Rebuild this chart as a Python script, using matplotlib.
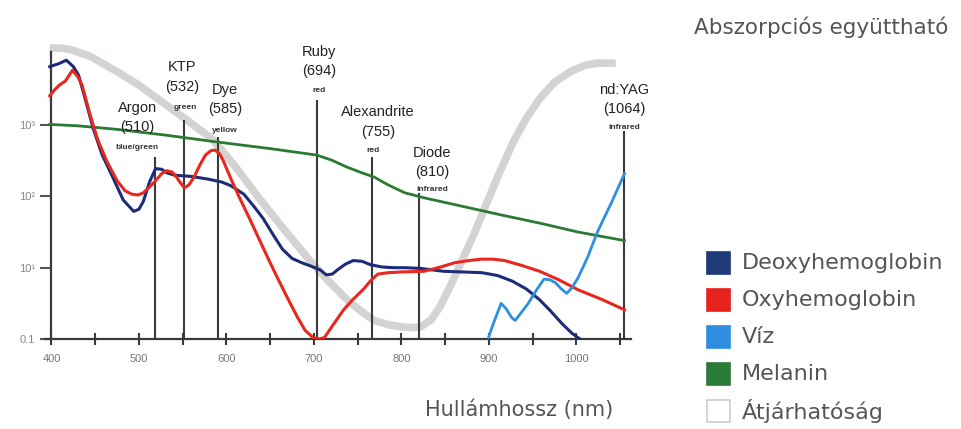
import numpy as np
import matplotlib
matplotlib.use("Agg")
import matplotlib.pyplot as plt
from matplotlib.patches import Rectangle
from matplotlib.ticker import FixedLocator, FixedFormatter, NullFormatter

# values, y in decades above the bottom of the axis
deoxy_wl = [398, 408, 417, 425, 431, 440, 448, 458, 470, 482, 494, 500, 505, 512, 519, 526, 532,
            540, 548, 560, 580, 595, 605, 620, 632, 642, 654, 664, 675, 686, 697, 707, 714, 721,
            728, 736, 745, 755, 765, 778, 791, 805, 822, 848, 870, 892, 910, 927, 943, 958, 970,
            984, 995, 1004]
deoxy_val = [3.82, 3.86, 3.91, 3.82, 3.70, 3.30, 2.94, 2.58, 2.27, 1.95, 1.79, 1.82, 1.93, 2.20,
             2.39, 2.38, 2.33, 2.30, 2.29, 2.28, 2.24, 2.20, 2.15, 2.03, 1.85, 1.69, 1.45, 1.26,
             1.13, 1.07, 1.02, 0.97, 0.90, 0.91, 0.98, 1.05, 1.10, 1.09, 1.04, 1.01, 1.00, 1.00,
             0.99, 0.95, 0.94, 0.93, 0.89, 0.81, 0.70, 0.55, 0.40, 0.21, 0.08, 0.0]

oxy_wl = [398, 404, 409, 416, 424, 430, 435, 444, 453, 463, 475, 484, 492, 499, 505, 512, 519,
          526, 532, 538, 543, 548, 552, 557, 563, 570, 576, 582, 587, 592, 596, 605, 615, 626,
          637, 648, 659, 670, 681, 690, 699, 706, 712, 722, 734, 745, 756, 765, 773, 785, 800,
          826, 845, 861, 877, 892, 905, 918, 938, 958, 980, 1002, 1030, 1055]
oxy_val = [3.41, 3.50, 3.56, 3.62, 3.77, 3.68, 3.56, 3.15, 2.79, 2.50, 2.22, 2.08, 2.03, 2.02,
           2.05, 2.13, 2.22, 2.32, 2.36, 2.34, 2.27, 2.18, 2.12, 2.16, 2.27, 2.45, 2.58, 2.64,
           2.65, 2.60, 2.51, 2.25, 1.98, 1.70, 1.41, 1.12, 0.84, 0.57, 0.31, 0.12, 0.02, 0.0,
           0.02, 0.20, 0.41, 0.56, 0.69, 0.82, 0.91, 0.93, 0.94, 0.95, 1.01, 1.07, 1.10, 1.12,
           1.12, 1.10, 1.03, 0.95, 0.83, 0.69, 0.55, 0.41]

water_wl = [899, 904, 908, 914, 920, 926, 930, 937, 945, 954, 963, 970, 976, 983, 989, 995,
            1002, 1013, 1024, 1040, 1055]
water_val = [0.0, 0.18, 0.31, 0.50, 0.42, 0.30, 0.26, 0.37, 0.50, 0.68, 0.84, 0.83, 0.79, 0.70,
             0.64, 0.72, 0.86, 1.15, 1.50, 1.91, 2.32]

melanin_wl = [398, 430, 475, 530, 585, 650, 703, 720, 738, 755, 769, 785, 804, 826, 870, 914,
              960, 1002, 1055]
melanin_val = [3.01, 2.99, 2.94, 2.86, 2.77, 2.67, 2.58, 2.51, 2.41, 2.33, 2.27, 2.16, 2.05,
               1.98, 1.86, 1.74, 1.62, 1.50, 1.38]

trans_wl = [398, 410, 422, 445, 475, 500, 527, 555, 585, 610, 637, 665, 694, 716, 738, 755, 769,
            785, 800, 812, 822, 834, 844, 857, 870, 884, 897, 912, 927, 942, 958, 975, 993,
            1010, 1024, 1045]
trans_val = [4.08, 4.08, 4.06, 3.96, 3.75, 3.56, 3.32, 3.07, 2.79, 2.42, 1.98, 1.55, 1.12, 0.82,
             0.55, 0.38, 0.26, 0.20, 0.17, 0.16, 0.17, 0.27, 0.45, 0.77, 1.12, 1.50, 1.89, 2.33,
             2.74, 3.08, 3.37, 3.60, 3.75, 3.84, 3.87, 3.87]

# lasers: name, nominal wavelength, colour word, where the line is drawn, top of the line
laser_names = ["Argon", "KTP", "Dye", "Ruby", "Alexandrite", "Diode", "nd:YAG"]
laser_nm = ["510", "532", "585", "694", "755", "810", "1064"]
laser_band = ["blue/green", "green", "yellow", "red", "red", "infrared", "infrared"]
laser_x = [518, 551, 590, 704, 766, 820, 1055]
laser_top = [2.55, 3.07, 2.83, 3.35, 2.55, 2.05, 2.92]
label_x = [498, 549, 598, 706, 773, 835, 1055]
label_y = [3.24, 3.81, 3.49, 4.03, 3.18, 2.61, 3.49]
band_x = [498, 553, 598, 706, 768, 835, 1055]
band_y = [2.69, 3.24, 2.93, 3.49, 2.65, 2.10, 2.96]

xtick_major = [400, 500, 600, 700, 800, 900, 1000]
xtick_minor = [450, 550, 650, 750, 850, 950, 1050]
ytick_pos = [0, 1, 2, 3]
ytick_text = ["0.1", "10¹", "10²", "10³"]

legend_names = ["Deoxyhemoglobin", "Oxyhemoglobin", "Víz", "Melanin", "Átjárhatóság"]
legend_colors = ["#1e3a78", "#e8221c", "#2f8de0", "#2b7a38", "white"]

def dec(v):
    return np.power(10.0, np.array(v))

fig = plt.figure(figsize=(9.61, 4.29), dpi=100)
ax = fig.add_axes([0.0472, 0.2098, 0.609, 0.6814])

ax.plot(trans_wl, dec(trans_val), color="#d5d3d1", lw=5.5, solid_capstyle="butt", zorder=1, clip_on=False)
ax.plot(melanin_wl, dec(melanin_val), color="#2b7a34", lw=2, zorder=3)
ax.plot(deoxy_wl, dec(deoxy_val), color="#1c2c78", lw=2.2, zorder=4)
ax.plot(oxy_wl, dec(oxy_val), color="#e8271e", lw=2.2, zorder=5)
ax.plot(water_wl, dec(water_val), color="#2d8fe0", lw=2, zorder=5)

ax.vlines(laser_x, 1, dec(laser_top), color="#3a3a3a", lw=1.5, zorder=2)

for i in range(len(laser_names)):
    ax.text(label_x[i], 10 ** label_y[i], laser_names[i], ha="center", va="center",
            fontsize=10.5, color="#222222", family="Liberation Sans")
    ax.text(label_x[i], 10 ** (label_y[i] - 0.27), "(" + laser_nm[i] + ")", ha="center", va="center",
            fontsize=10.5, color="#222222", family="Liberation Sans")
    ax.text(band_x[i], 10 ** band_y[i], laser_band[i], ha="center", va="center",
            fontsize=6, color="#333333", fontweight="bold", family="Liberation Sans")

ax.set_yscale("log")
ax.set_xlim(393, 1062)
ax.set_ylim(1, 10 ** 4.1)

for s in ["top", "right"]:
    ax.spines[s].set_visible(False)
ax.spines["left"].set_position(("data", 400))
ax.spines["left"].set_bounds(1, 10 ** 4.03)
for s in ["left", "bottom"]:
    ax.spines[s].set_color("#3a3a3a")
    ax.spines[s].set_linewidth(1.6)

ax.set_xticks(xtick_major)
ax.set_xticks(xtick_minor, minor=True)
ax.xaxis.set_minor_formatter(NullFormatter())
ax.tick_params(axis="x", which="both", direction="inout", length=9, width=1.5, color="#3a3a3a",
               labelsize=8, labelcolor="#777777", pad=6)

ax.yaxis.set_major_locator(FixedLocator(dec(ytick_pos)))
ax.yaxis.set_major_formatter(FixedFormatter(ytick_text))
ax.yaxis.set_minor_locator(FixedLocator([]))
ax.tick_params(axis="y", direction="out", length=8, width=1.5, color="#555555",
               labelsize=8, labelcolor="#888888", pad=4)
for lab in ax.get_xticklabels() + ax.get_yticklabels():
    lab.set_family("Liberation Sans")

fig.text(0.987, 0.937, "Abszorpciós együttható", ha="right", va="center", fontsize=15.5,
         color="#555555", family="DejaVu Sans")
fig.text(0.442, 0.045, "Hullámhossz (nm)", ha="left", va="center", fontsize=15, color="#555555")

# legend drawn by hand: squares and names
for i in range(len(legend_names)):
    yc = 1 - (263 + i * 37) / 429
    fig.add_artist(Rectangle((707 / 961, yc - 11 / 429), 23 / 961, 22 / 429,
                             facecolor=legend_colors[i],
                             edgecolor="#cccccc" if legend_colors[i] == "white" else legend_colors[i],
                             lw=1.2, transform=fig.transFigure))
    fig.text(742 / 961, yc, legend_names[i], ha="left", va="center", fontsize=16, color="#555555")

fig.savefig("out.png", dpi=100)
